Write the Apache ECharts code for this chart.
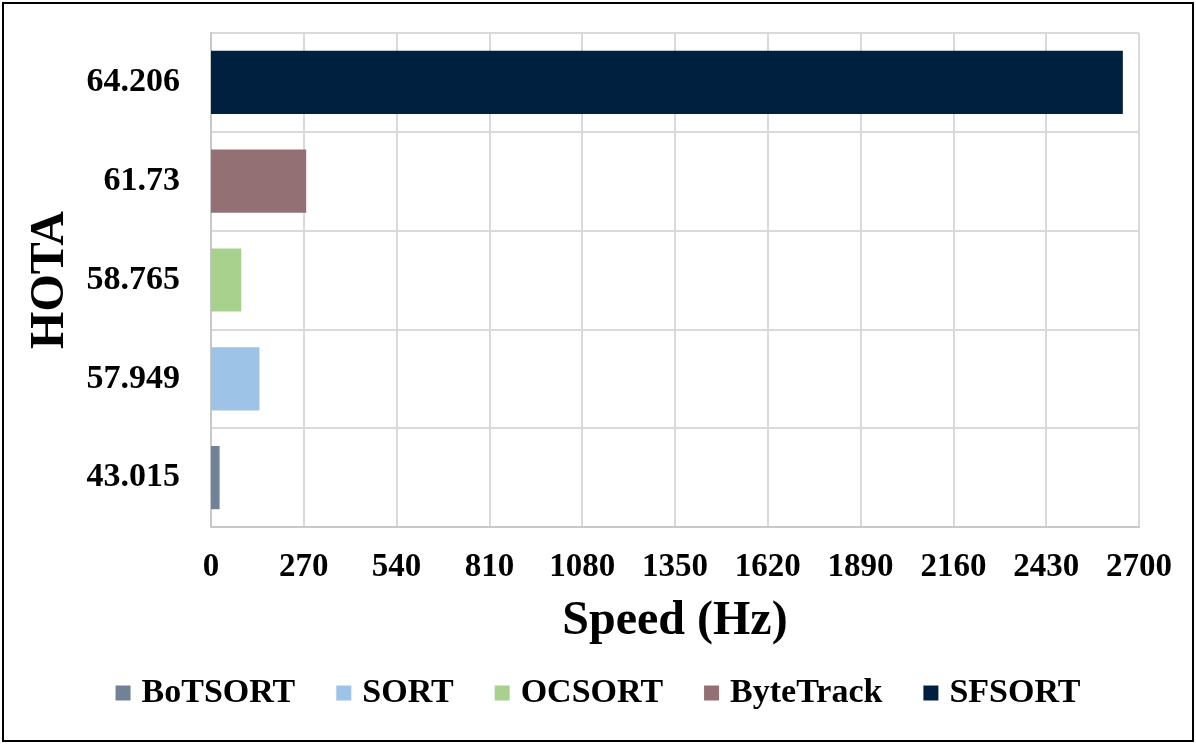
<!DOCTYPE html>
<html>
<head>
<meta charset="utf-8">
<script src="https://cdn.jsdelivr.net/npm/echarts@6/dist/echarts.min.js"></script>
<style>
html,body{margin:0;padding:0;background:#fff;}
#wrap{position:relative;width:1196px;height:744px;}
#c{position:absolute;left:0;top:0;width:1196px;height:744px;}
#frame{position:absolute;left:2px;top:2px;width:1188px;height:736px;border:2.5px solid #000;pointer-events:none;}
</style>
</head>
<body>
<div id="wrap"><div id="c"></div><div id="frame"></div></div>
<script>
var categories = ['43.015', '57.949', '58.765', '61.73', '64.206'];
var trackers = ['BoTSORT', 'SORT', 'OCSORT', 'ByteTrack', 'SFSORT'];
var speeds = [25, 141, 88, 277, 2653];
var colors = ['#718196', '#9DC3E6', '#A9D18E', '#937074', '#00203F'];
var xTicks = [0, 270, 540, 810, 1080, 1350, 1620, 1890, 2160, 2430, 2700];

var font = 'Liberation Serif, Times New Roman, serif';
var series = trackers.map(function (name, i) {
  var d = categories.map(function (c, j) { return j === i ? speeds[i] : '-'; });
  return {
    name: name,
    type: 'bar',
    stack: 'all',
    barWidth: '64%',
    data: d,
    itemStyle: { color: colors[i] }
  };
});

var chart = echarts.init(document.getElementById('c'));
chart.setOption({
  animation: false,
  grid: { left: 211, right: 57, top: 33, bottom: 217, containLabel: false },
  xAxis: {
    type: 'value',
    min: xTicks[0],
    max: xTicks[xTicks.length - 1],
    interval: xTicks[1] - xTicks[0],
    name: 'Speed (Hz)',
    nameLocation: 'middle',
    nameGap: 71,
    nameTextStyle: { fontFamily: font, fontWeight: 'bold', fontSize: 48, color: '#000' },
    axisLine: { show: true, lineStyle: { color: '#C8C8C8', width: 2 } },
    axisTick: { show: false },
    axisLabel: {
      fontFamily: font, fontWeight: 'bold', fontSize: 33, color: '#000', margin: 24,
      formatter: function (v) { return String(v); }
    },
    splitLine: { show: true, lineStyle: { color: '#D9D9D9', width: 2 } }
  },
  yAxis: {
    type: 'category',
    data: categories,
    name: 'HOTA',
    nameLocation: 'middle',
    nameGap: 136,
    nameRotate: 90,
    nameTextStyle: { fontFamily: font, fontWeight: 'bold', fontSize: 48, color: '#000' },
    axisLine: { show: true, lineStyle: { color: '#C8C8C8', width: 2 } },
    axisTick: { show: false },
    axisLabel: { fontFamily: font, fontWeight: 'bold', fontSize: 34, color: '#000', margin: 31 },
    splitLine: { show: true, lineStyle: { color: '#D9D9D9', width: 2 } }
  },
  legend: {
    data: trackers,
    bottom: 29,
    left: 'center',
    itemWidth: 15,
    itemHeight: 15,
    itemGap: 41,
    icon: 'rect',
    textStyle: { fontFamily: font, fontWeight: 'bold', fontSize: 34, color: '#000', padding: [0, 0, 0, 6] }
  },
  series: series
});
</script>
</body>
</html>
